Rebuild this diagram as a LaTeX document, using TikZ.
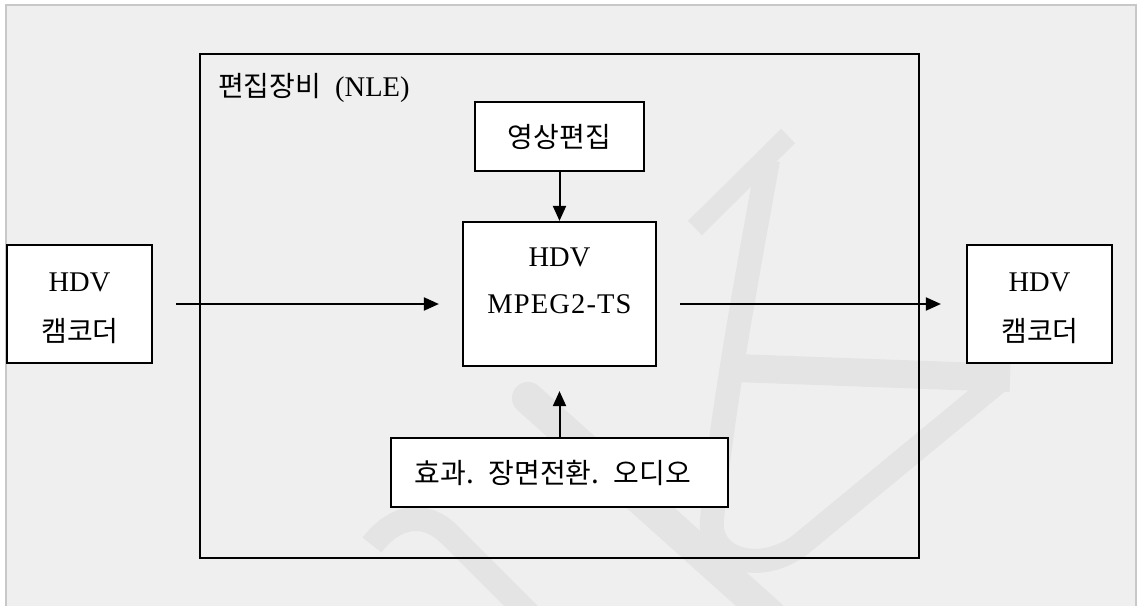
\documentclass[tikz,border=0pt]{standalone}
\usepackage{fontspec}
\setmainfont{Liberation Serif}
\newfontfamily\kr{Noto Sans CJK KR}
\usetikzlibrary{arrows.meta}
\definecolor{bg}{HTML}{EFEFEF}
\definecolor{frame}{HTML}{C8C8C8}
\definecolor{wm}{HTML}{E4E4E4}
\begin{document}
\begin{tikzpicture}[x=1pt,y=-1pt,
  box/.style={draw=black,line width=2.2pt,fill=white,inner sep=0pt},
  lbl/.style={inner sep=0pt,font=\fontsize{28.5}{32}\selectfont},
  krl/.style={inner sep=0pt,font=\kr\fontsize{28}{32}\selectfont},
  arr/.style={line width=2pt,-{Triangle[length=15pt,width=13pt]}},
  wmk/.style={draw=wm,line width=24pt}]
\useasboundingbox (0,0) rectangle (1137,605);
\fill[white] (0,0) rectangle (1137,605);
\filldraw[fill=bg,draw=frame,line width=2pt] (6,5) rectangle (1136,620);
% watermark
\draw[wmk,line width=20pt] (695,228) -- (788,136);
\draw[wmk,line join=round] (768,160) .. controls (750,260) and (720,420) .. (712,520) .. controls (708,560) and (760,575) .. (800,545) -- (1000,380);
\draw[wmk,line width=28pt] (735,368) -- (1010,378);
\draw[wmk,line width=32pt,line cap=round] (528,398) -- (770,615);
\draw[wmk] (372,545) .. controls (395,515) and (425,510) .. (450,535) -- (530,615);
% NLE frame
\node[draw=black,line width=2.2pt,inner sep=0pt,minimum width=719pt,minimum height=504pt] (nle) at (559.5,306) {};
\node[krl,anchor=west] (title) at (218,88) {편집장비\hspace{14pt}\rmfamily\fontsize{28.5}{32}\selectfont (NLE)};
% boxes
\node[box,minimum width=145pt,minimum height=118pt] (L) at (79.5,304) {};
\node[lbl] (Lt1) at (79.5,282) {HDV};
\node[krl] (Lt2) at (80,331) {캠코더};
\node[box,minimum width=145pt,minimum height=118pt] (R) at (1039.5,304) {};
\node[lbl] (Rt1) at (1039.5,282) {HDV};
\node[krl] (Rt2) at (1040,331) {캠코더};
\node[box,minimum width=193pt,minimum height=144pt] (C) at (559.5,294) {};
\node[lbl] (Ct1) at (559.5,257) {HDV};
\node[lbl] (Ct2) at (559.5,304) {\addfontfeatures{LetterSpace=4}MPEG2-TS};
\node[box,minimum width=169pt,minimum height=69pt] (T) at (559.5,136.5) {};
\node[krl] (Tt) at (559.5,137) {영상편집};
\node[box,minimum width=337pt,minimum height=69pt] (B) at (559.5,472.5) {};
\node[krl] (Bt) at (553,473) {효과.\hspace{6pt} 장면전환.\hspace{6pt} 오디오};
% connectors
\draw[arr,shorten <=23pt,shorten >=23pt] (L.east) -- (L.east -| C.west);
\draw[arr,shorten <=23pt,shorten >=25pt] (C.east |- R.west) -- (R.west);
\draw[arr] (T.south) -- (C.north);
\draw[arr,shorten >=24pt] (B.north) -- (C.south);
\end{tikzpicture}
\end{document}
